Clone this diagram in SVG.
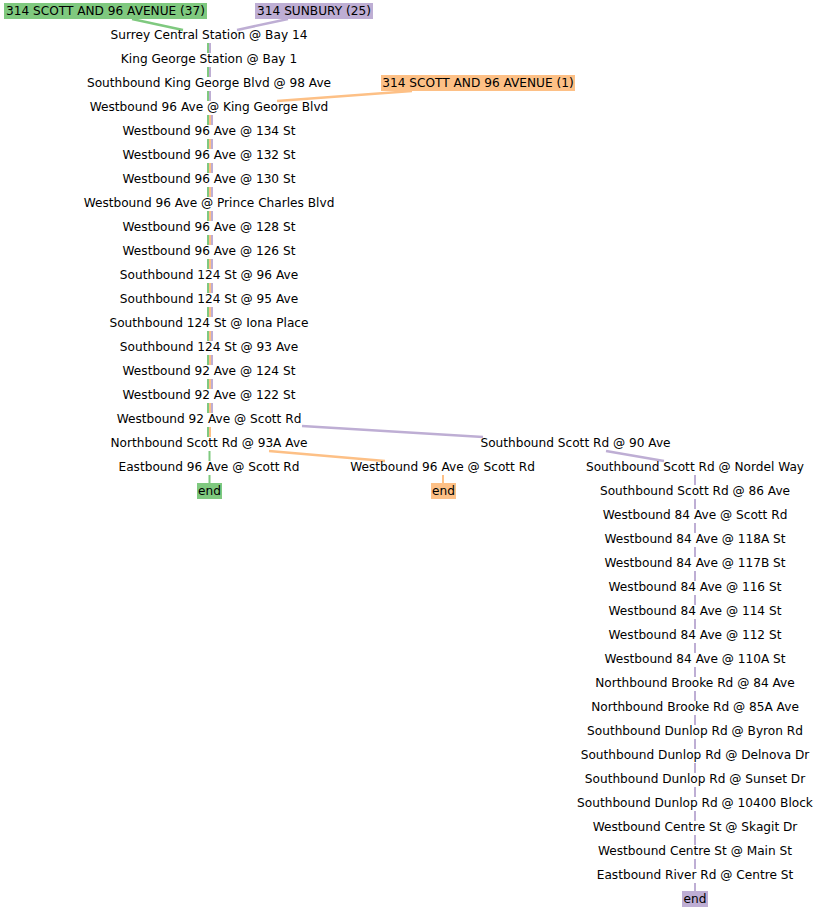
<svg xmlns="http://www.w3.org/2000/svg" width="820" height="912" viewBox="0 0 820 912">
<style>
text{font-family:"DejaVu Sans",sans-serif;font-size:12.15px;fill:#000;text-anchor:middle}
.e{fill:none;stroke-width:2}
.d{stroke-dasharray:10 14}
.g{stroke:#7fc97f}.o{stroke:#fdc086}.p{stroke:#beaed4}
.diag{fill:none;stroke-width:2.5}
</style>
<rect width="820" height="912" fill="#fff"/>
<g id="connectors">
<path class="diag g" d="M132 19 L183 30"/>
<path class="diag p" d="M288 19 L237 30"/>
<path class="diag o" d="M412 91 L277 101"/>
<path class="e g d" d="M208 43 V437"/>
<path class="e g d" d="M209.5 451 V485"/>
<path class="e o d" d="M210 115 V437"/>
<path class="e p d" d="M210 43 V101"/>
<path class="e p d" d="M212 115 V413"/>
<path class="diag p" d="M302 426 L483 437"/>
<path class="diag p" d="M606 451 L664 461"/>
<path class="diag o" d="M269 451 L385 461"/>
<path class="e o" d="M443 475 V485"/>
<path class="e p d" d="M695 475 V893"/>
</g>
<g id="h_green"><rect x="4" y="3" width="203" height="16" fill="#7fc97f"/><text x="105.5" y="15.3">314 SCOTT AND 96 AVENUE (37)</text></g>
<g id="h_purple"><rect x="255" y="3" width="118" height="16" fill="#beaed4"/><text x="314" y="15.3">314 SUNBURY (25)</text></g>
<g id="h_orange"><rect x="381" y="75" width="194" height="16" fill="#fdc086"/><text x="478" y="87.3">314 SCOTT AND 96 AVENUE (1)</text></g>
<g id="n1"><text x="209" y="39.3">Surrey Central Station @ Bay 14</text></g>
<g id="n2"><text x="209" y="63.3">King George Station @ Bay 1</text></g>
<g id="n3"><text x="209" y="87.3">Southbound King George Blvd @ 98 Ave</text></g>
<g id="n4"><text x="209" y="111.3">Westbound 96 Ave @ King George Blvd</text></g>
<g id="n5"><text x="209" y="135.3">Westbound 96 Ave @ 134 St</text></g>
<g id="n6"><text x="209" y="159.3">Westbound 96 Ave @ 132 St</text></g>
<g id="n7"><text x="209" y="183.3">Westbound 96 Ave @ 130 St</text></g>
<g id="n8"><text x="209" y="207.3">Westbound 96 Ave @ Prince Charles Blvd</text></g>
<g id="n9"><text x="209" y="231.3">Westbound 96 Ave @ 128 St</text></g>
<g id="n10"><text x="209" y="255.3">Westbound 96 Ave @ 126 St</text></g>
<g id="n11"><text x="209" y="279.3">Southbound 124 St @ 96 Ave</text></g>
<g id="n12"><text x="209" y="303.3">Southbound 124 St @ 95 Ave</text></g>
<g id="n13"><text x="209" y="327.3">Southbound 124 St @ Iona Place</text></g>
<g id="n14"><text x="209" y="351.3">Southbound 124 St @ 93 Ave</text></g>
<g id="n15"><text x="209" y="375.3">Westbound 92 Ave @ 124 St</text></g>
<g id="n16"><text x="209" y="399.3">Westbound 92 Ave @ 122 St</text></g>
<g id="n17"><text x="209" y="423.3">Westbound 92 Ave @ Scott Rd</text></g>
<g id="n18"><text x="209" y="447.3">Northbound Scott Rd @ 93A Ave</text></g>
<g id="n19"><text x="209" y="471.3">Eastbound 96 Ave @ Scott Rd</text></g>
<g id="end_green"><rect x="197" y="483" width="25" height="16" fill="#7fc97f"/><text x="209.5" y="495.3">end</text></g>
<g id="n20"><text x="575.5" y="447.3">Southbound Scott Rd @ 90 Ave</text></g>
<g id="n21"><text x="442.5" y="471.3">Westbound 96 Ave @ Scott Rd</text></g>
<g id="end_orange"><rect x="431" y="483" width="25" height="16" fill="#fdc086"/><text x="443.5" y="495.3">end</text></g>
<g id="n22"><text x="695" y="471.3">Southbound Scott Rd @ Nordel Way</text></g>
<g id="n23"><text x="695" y="495.3">Southbound Scott Rd @ 86 Ave</text></g>
<g id="n24"><text x="695" y="519.3">Westbound 84 Ave @ Scott Rd</text></g>
<g id="n25"><text x="695" y="543.3">Westbound 84 Ave @ 118A St</text></g>
<g id="n26"><text x="695" y="567.3">Westbound 84 Ave @ 117B St</text></g>
<g id="n27"><text x="695" y="591.3">Westbound 84 Ave @ 116 St</text></g>
<g id="n28"><text x="695" y="615.3">Westbound 84 Ave @ 114 St</text></g>
<g id="n29"><text x="695" y="639.3">Westbound 84 Ave @ 112 St</text></g>
<g id="n30"><text x="695" y="663.3">Westbound 84 Ave @ 110A St</text></g>
<g id="n31"><text x="695" y="687.3">Northbound Brooke Rd @ 84 Ave</text></g>
<g id="n32"><text x="695" y="711.3">Northbound Brooke Rd @ 85A Ave</text></g>
<g id="n33"><text x="695" y="735.3">Southbound Dunlop Rd @ Byron Rd</text></g>
<g id="n34"><text x="695" y="759.3">Southbound Dunlop Rd @ Delnova Dr</text></g>
<g id="n35"><text x="695" y="783.3">Southbound Dunlop Rd @ Sunset Dr</text></g>
<g id="n36"><text x="695" y="807.3">Southbound Dunlop Rd @ 10400 Block</text></g>
<g id="n37"><text x="695" y="831.3">Westbound Centre St @ Skagit Dr</text></g>
<g id="n38"><text x="695" y="855.3">Westbound Centre St @ Main St</text></g>
<g id="n39"><text x="695" y="879.3">Eastbound River Rd @ Centre St</text></g>
<g id="end_purple"><rect x="682" y="891" width="26" height="16" fill="#beaed4"/><text x="695" y="903.3">end</text></g>
</svg>
